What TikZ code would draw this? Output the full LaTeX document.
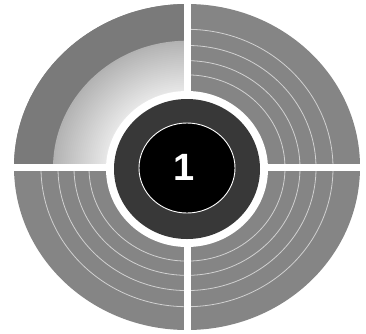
\documentclass[tikz,border=0pt]{standalone}
\usepackage{fontspec}
\setmainfont{Liberation Sans}
\begin{document}
\begin{tikzpicture}[x=1pt,y=-1pt,
  quad/.style={fill=black!48},
  arc/.style={draw=black!18,line width=0.8pt},
  gap/.style={draw=white,line width=7pt}]
\useasboundingbox[fill=white] (0,0) rectangle (366,333);
% outer gray disk
\fill[quad] (187,167) ellipse [x radius=173, y radius=163];
% thin light concentric arcs
\foreach \r in {98,113,129,146}{
  \draw[arc] (187,168) ellipse [x radius=\r, y radius=\r*0.95];
}
% top-left quadrant: dark outer band and light inner band
\begin{scope}
  \clip (0,0) rectangle (187,167);
  \fill[black!52] (187,167) ellipse [x radius=173, y radius=163];
  \foreach \i in {0,...,26}{
    \pgfmathsetmacro{\rr}{134-2*\i}
    \pgfmathsetmacro{\cc}{30-0.8*\i}
    \fill[black!\cc] (187,168) ellipse [x radius=\rr, y radius=\rr*0.95];
  }
\end{scope}
% white cross
\draw[gap] (187,0) -- (187,333);
\draw[gap] (0,167) -- (366,167);
% white ring backing
\fill[white] (187,169) ellipse [x radius=81, y radius=78];
% dark gray ring
\fill[black!78] (187,169) ellipse [x radius=73, y radius=70];
% black disk with white outline
\filldraw[fill=black, draw=white, line width=0.9pt] (187,168) ellipse [x radius=48, y radius=45];
\node[text=white, font=\bfseries\fontsize{38}{38}\selectfont] (num) at (184,167) {1};
\end{tikzpicture}
\end{document}
